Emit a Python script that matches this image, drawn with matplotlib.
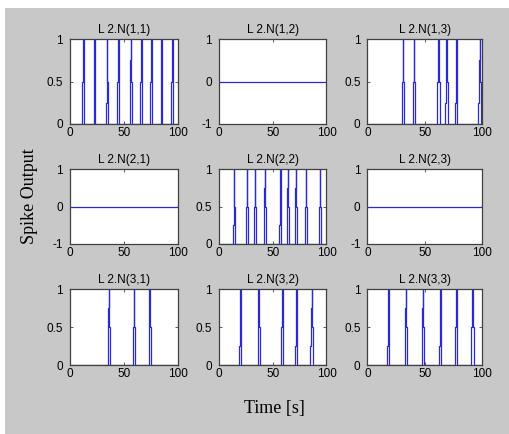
import numpy as np
import matplotlib
matplotlib.use("Agg")
import matplotlib.pyplot as plt
from matplotlib.patches import Rectangle

# ---- data ----
titles = [["L 2.N(1,1)", "L 2.N(1,2)", "L 2.N(1,3)"],
          ["L 2.N(2,1)", "L 2.N(2,2)", "L 2.N(2,3)"],
          ["L 2.N(3,1)", "L 2.N(3,2)", "L 2.N(3,3)"]]

# spike times per neuron (empty = silent neuron)
spikes_11 = [12.3, 22.8, 34.5, 44.9, 56.3, 66.2, 75.3, 84.8, 94.9]
spikes_12 = []
spikes_13 = [31.2, 40.5, 62.1, 69.1, 77.8, 98.1]
spikes_21 = []
spikes_22 = [14.2, 26.3, 33.4, 42.7, 57.3, 64.3, 71.8, 81.0, 94.0]
spikes_23 = []
spikes_31 = [36.1, 59.5, 73.8]
spikes_32 = [20.1, 36.9, 59.1, 72.1, 86.3]
spikes_33 = [18.4, 33.6, 48.5, 63.6, 77.6, 91.8]

# spikes with the intermediate 0.25/0.75 shoulder (indices)
shoulder_11 = [2, 4]
shoulder_13 = [3, 4, 5]
shoulder_22 = [0, 3, 4, 5, 6]
shoulder_31 = [0]
shoulder_32 = [0, 3, 4]
shoulder_33 = [0, 1, 2, 3]

spike_sets = [[spikes_11, spikes_12, spikes_13],
              [spikes_21, spikes_22, spikes_23],
              [spikes_31, spikes_32, spikes_33]]
shoulder_sets = [[shoulder_11, [], shoulder_13],
                 [[], shoulder_22, []],
                 [shoulder_31, shoulder_32, shoulder_33]]

t_start, t_end = 0, 100
x_ticks = [0, 50, 100]

# ---- layout (pixels) ----
W, H = 510, 434
col_lr = [(70, 178), (219, 326.5), (367.5, 482)]
row_tb = [(39, 124), (169, 244), (289, 365)]

LINE_COLOR = "#2a2ad0"
BG = "#c8c8c8"


def spike_trace(times, shoulders):
    xs = [t_start]
    ys = [0.0]
    for i, t in enumerate(times):
        if i in shoulders:
            px = [t - 1.2, t - 1.2, t - 0.7, t - 0.7, t - 0.2, t - 0.2, t + 0.2, t + 0.2, t + 0.8, t + 0.8]
            py = [0, 0.25, 0.25, 0.75, 0.75, 1, 1, 0.5, 0.5, 0]
        else:
            px = [t - 1.0, t - 1.0, t - 0.2, t - 0.2, t + 0.2, t + 0.2, t + 0.8, t + 0.8]
            py = [0, 0.5, 0.5, 1, 1, 0.5, 0.5, 0]
        xs += px
        ys += py
    xs.append(t_end)
    ys.append(0.0)
    return np.array(xs), np.array(ys)


fig = plt.figure(figsize=(W / 100, H / 100), dpi=100)
fig.patch.set_facecolor("white")
fig.patches.append(Rectangle((5 / W, 0), 1 - 5 / W, 1 - 8 / H,
                             transform=fig.transFigure, facecolor=BG,
                             edgecolor="none", zorder=-10))

for r in range(3):
    for c in range(3):
        l, rr = col_lr[c]
        t, b = row_tb[r]
        ax = fig.add_axes([l / W, 1 - b / H, (rr - l) / W, (b - t) / H])
        ax.set_facecolor("white")
        times = spike_sets[r][c]
        if times:
            x, y = spike_trace(times, shoulder_sets[r][c])
            ax.plot(x, y, color=LINE_COLOR, lw=0.9)
            ax.set_ylim(0, 1)
            ax.set_yticks([0, 0.5, 1])
            ax.set_yticklabels(["0", "0.5", "1"])
        else:
            ax.plot([t_start, t_end], [0, 0], color=LINE_COLOR, lw=0.9)
            ax.set_ylim(-1, 1)
            ax.set_yticks([-1, 0, 1])
            ax.set_yticklabels(["-1", "0", "1"])
        ax.set_xlim(t_start, t_end)
        ax.set_xticks(x_ticks)
        ax.set_xticklabels([str(v) for v in x_ticks])
        ax.tick_params(direction="in", length=2.5, width=0.6, top=True, right=True,
                       colors="#404040", labelcolor="black", labelsize=8.5)
        ax.tick_params(axis="y", pad=5)
        ax.tick_params(axis="x", pad=2.5)
        for lab in ax.get_xticklabels() + ax.get_yticklabels():
            lab.set_family("Liberation Sans")
        for s in ax.spines.values():
            s.set_color("#404040")
            s.set_linewidth(0.9)
        ax.set_title(titles[r][c], fontsize=8.5, family="Liberation Sans", pad=4)

fig.text(30 / W, 1 - 196 / H, "Spike Output", rotation=90, ha="center", va="center",
         family="Liberation Serif", fontsize=13)
fig.text(274 / W, 1 - 408 / H, "Time [s]", ha="center", va="center",
         family="Liberation Serif", fontsize=13)

fig.savefig("out.png", dpi=100, facecolor=fig.get_facecolor())
